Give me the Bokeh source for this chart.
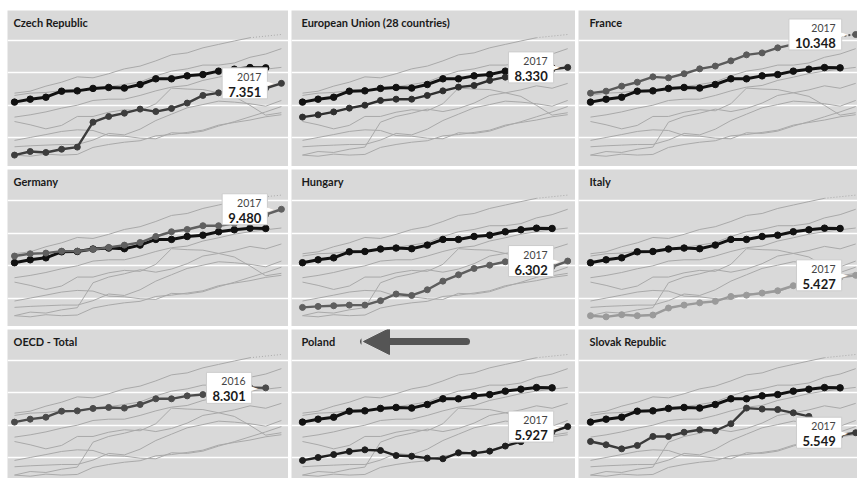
import math
from bokeh.plotting import figure
from bokeh.layouts import gridplot
from bokeh.models import Label, Arrow, NormalHead, Range1d, FixedTicker
from bokeh.embed import file_html
from bokeh.resources import INLINE

NA = float("nan")
years = list(range(2000, 2018))

oecd_total = [6.20, 6.38, 6.50, 6.87, 6.89, 7.04, 7.10, 7.06, 7.28, 7.63, 7.63, 7.81, 7.89, 8.10, 8.22, 8.32, 8.301, NA]
czech = [2.95, 3.17, 3.11, 3.31, 3.44, 4.97, 5.32, 5.52, 5.77, 5.62, 5.81, 6.14, 6.61, 6.77, 6.95, 7.20, 7.05, 7.351]
eu28 = [5.28, 5.42, 5.60, 5.83, 6.01, 6.30, 6.38, 6.38, 6.61, 6.89, 7.12, 7.22, 7.53, 7.73, 7.95, 8.10, 8.22, 8.330]
france = [6.75, 6.87, 7.18, 7.42, 7.75, 7.69, 7.94, 8.24, 8.41, 8.73, 9.10, 9.22, 9.53, 9.74, 9.95, 10.15, NA, 10.348]
germany = [6.61, 6.75, 6.79, 6.91, 6.91, 7.02, 7.14, 7.28, 7.44, 7.81, 8.10, 8.24, 8.47, 8.47, 8.60, 8.95, 9.15, 9.480]
hungary = [3.46, 3.52, 3.56, 3.60, 3.60, 3.87, 4.28, 4.19, 4.54, 5.07, 5.46, 5.85, 6.05, 6.26, 6.20, 6.10, 5.95, 6.302]
italy = [2.95, 2.88, 3.01, 2.95, 2.99, 3.42, 3.60, 3.74, 3.83, 4.13, 4.21, 4.34, 4.48, 4.79, 4.95, 5.10, 5.30, 5.427]
poland = [3.85, 4.03, 4.21, 4.40, 4.50, 4.46, 4.15, 4.11, 3.99, 3.95, 4.32, 4.28, 4.42, 4.73, 5.00, 5.30, 5.60, 5.927]
slovakia = [5.01, 4.81, 4.56, 4.77, 5.32, 5.32, 5.58, 5.73, 5.67, 6.10, 7.06, 7.00, 6.97, 6.77, 6.55, 6.00, 5.40, 5.549]

panel_names = ["Czech Republic", "European Union (28 countries)", "France",
               "Germany", "Hungary", "Italy",
               "OECD - Total", "Poland", "Slovak Republic"]
panel_series = [czech, eu28, france, germany, hungary, italy, oecd_total, poland, slovakia]
grid_ticks = [4, 6, 8, 10]

# styles / layout
highlight_colors = ["#3d3d3d", "#2e2e2e", "#5a5a5a", "#606060", "#5e5e5e", "#9a9a9a", "#4a4a4a", "#1e1e1e", "#3a3a3a"]
BG = "#d9d9d9"
GRAY = "#a9a9a9"
BLACK = "#111111"
FONT = "Lato"
col_widths = [281, 284, 279]
row_heights = [156, 157, 149]
x_ranges = [(1999.554, 2017.452), (1999.295, 2017.50), (1999.231, 2017.115)]
y_ranges = [(2.250, 11.820), (2.287, 11.919), (2.741, 11.882)]
title_x = [6, 10, 11]


def gap_pairs(vals):
    """indices of valid points that surround an internal gap"""
    valid = [i for i, v in enumerate(vals) if not math.isnan(v)]
    return [(a, b) for a, b in zip(valid[:-1], valid[1:]) if b - a > 1]


def make_panel(k):
    r, c = divmod(k, 3)
    name = panel_names[k]
    vals = panel_series[k]
    color = highlight_colors[k]
    w, h = col_widths[c], row_heights[r]
    p = figure(width=w, height=h, x_range=Range1d(*x_ranges[c]), y_range=Range1d(*y_ranges[r]),
               output_backend="svg", toolbar_location=None, min_border=0,
               background_fill_color=BG, border_fill_color=BG, outline_line_color=None)
    p.xaxis.visible = False
    p.yaxis.visible = False
    p.xgrid.visible = False
    p.ygrid.ticker = FixedTicker(ticks=grid_ticks)
    p.ygrid.grid_line_color = "white"
    p.ygrid.grid_line_width = 1.6

    # background: every other series in light gray
    for s in panel_series:
        if s is oecd_total:
            continue
        p.line(years, s, line_color=GRAY, line_width=1)
        for a, b in gap_pairs(s):
            p.line([years[a], years[b]], [s[a], s[b]], line_color=GRAY, line_width=1, line_dash="1 2")

    # OECD reference line
    if vals is not oecd_total:
        p.line(years, oecd_total, line_color=BLACK, line_width=3)
        p.scatter(years, oecd_total, size=6.5, fill_color=BLACK, line_color=BLACK)

    # highlighted series
    p.line(years, vals, line_color=color, line_width=2.4)
    for a, b in gap_pairs(vals):
        p.line([years[a], years[b]], [vals[a], vals[b]], line_color=color, line_width=2, line_dash="2 2")
    p.scatter(years, vals, size=6, fill_color=color, line_color=color)

    # callout at last value
    last = max(i for i, v in enumerate(vals) if not math.isnan(v))
    yr, v = years[last], vals[last]
    p.add_layout(Label(x=yr, y=v, x_offset=-14, y_offset=0, text=f"{v:.3f}",
                       text_align="right", text_baseline="middle", text_font=FONT,
                       text_font_size="13px", text_font_style="bold", text_color="#1a1a1a",
                       background_fill_color="white", border_line_color="#cccccc",
                       border_line_width=1, padding=(6, 6, 19, 2)))
    p.add_layout(Label(x=yr, y=v, x_offset=-15, y_offset=0, text="\u25ba",
                       text_align="left", text_baseline="middle", text_font="DejaVu Sans",
                       text_font_size="9px", text_color="white"))
    p.add_layout(Label(x=yr, y=v, x_offset=-20, y_offset=6.5, text=str(yr),
                       text_align="right", text_baseline="middle", text_font=FONT,
                       text_font_size="10.5px", text_color="#444444"))

    # panel title
    p.add_layout(Label(x=title_x[c], y=h - 12, x_units="screen", y_units="screen", text=name,
                       text_baseline="middle", text_font=FONT, text_font_size="11px",
                       text_font_style="bold", text_color="#1a1a1a"))

    if name == "Poland":
        p.add_layout(Arrow(end=NormalHead(size=26, fill_color="#555555", line_color="#555555"),
                           x_start=175, y_start=h - 12, x_end=72, y_end=h - 12,
                           start_units="screen", end_units="screen",
                           line_color="#555555", line_width=7, line_cap="round"))
    return p


figs = [make_panel(k) for k in range(9)]
grid = gridplot([figs[0:3], figs[3:6], figs[6:9]], toolbar_location=None)
grid.spacing = 3
grid.margin = (10, 0, 0, 7)

open("out.html", "w").write(file_html(grid, INLINE))
